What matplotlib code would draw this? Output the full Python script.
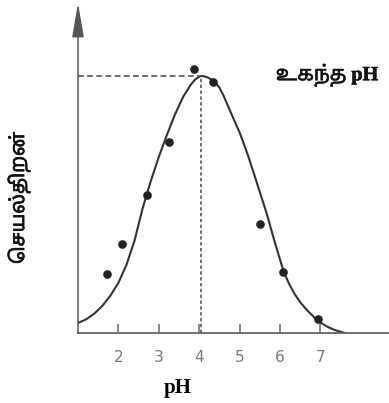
import matplotlib
matplotlib.use("Agg")
import matplotlib.pyplot as plt
import matplotlib.patheffects as pe

# activity vs pH curve (peak = 100)
ph_curve = [1.0, 1.2, 1.4, 1.6, 1.8, 2.0, 2.2, 2.4, 2.6, 2.8, 3.0, 3.2, 3.4, 3.6,
            3.8, 3.9, 4.0, 4.05, 4.12, 4.2, 4.3, 4.39, 4.5, 4.6, 4.72, 4.85, 5.01,
            5.22, 5.46, 5.67, 5.88, 6.08, 6.22, 6.37, 6.52, 6.70, 6.87, 7.03, 7.18,
            7.32, 7.47, 7.61]
act_curve = [3.9, 5.3, 7.5, 10.5, 14.5, 19.5, 26.5, 36.0, 48.5, 59.0, 68.5, 77.0,
             85.0, 91.8, 96.8, 98.6, 99.7, 100.0, 99.9, 99.5, 98.7, 97.6, 95.5, 92.5,
             88.1, 83.4, 77.7, 68.6, 56.9, 46.6, 34.9, 24.5, 19.3, 15.0, 11.6, 8.4,
             5.8, 3.8, 2.4, 1.4, 0.6, 0.0]

# measured points
ph_pts = [1.73, 2.08, 2.70, 3.25, 3.88, 4.34, 5.50, 6.07, 6.95]
act_pts = [22.8, 34.7, 53.7, 74.2, 102.8, 97.7, 42.4, 23.9, 5.3]

peak_ph = 4.05
peak_act = 100.0
xticks = [2, 3, 4, 5, 6, 7]

# matplotlib does no Tamil shaping, so the prefix vowel sign (U+0BC6)
# is put before its consonant to get the right look for "செயல்திறன்"
ylabel = "\u0BC6\u0B9A" + "யல்திறன்"
opt_label = "உகந்த pH"

fig = plt.figure(figsize=(3.89, 4.03), dpi=100)
ax = fig.add_axes([78 / 389, 70 / 403, 311 / 389, 330 / 403])
ax.set_xlim(1.0, 8.70)
ax.set_ylim(0, 128.4)

ax.plot(ph_curve, act_curve, color="#333333", lw=1.5, solid_capstyle="round",
        solid_joinstyle="round")
ax.plot(ph_pts, act_pts, "o", color="#222222", ms=5.2)

ax.hlines(peak_act, 1.0, peak_ph, colors="#555555", lw=1.2, linestyles=(0, (3.5, 2)))
ax.vlines(peak_ph, 0, peak_act, colors="#555555", lw=1.2, linestyles=(0, (2, 1.5)))

for s in ["top", "right", "left"]:
    ax.spines[s].set_visible(False)
ax.spines["bottom"].set_color("#666666")
ax.spines["bottom"].set_linewidth(1.3)

# y axis with arrow head
ax.annotate("", xy=(0, 1), xytext=(0, 0), xycoords="axes fraction",
            arrowprops=dict(arrowstyle="-|>,head_length=2.1,head_width=0.36",
                            color="#555555", lw=1.1, shrinkA=0, shrinkB=0))

ax.set_xticks(xticks)
ax.set_yticks([])
ax.tick_params(axis="x", direction="in", length=6.5, width=1.1, color="#666666",
               labelcolor="#777777", labelsize=11, pad=12)

ax.set_xlabel("pH", fontsize=15, fontweight="bold", family="Liberation Serif")
ax.xaxis.set_label_coords((178 - 78) / 311, -55 / 330)
ax.xaxis.label.set_va("center")

# the Tamil font is a variable font, so thicken it with a thin stroke
fig.text(19 / 389, 1 - 198 / 403, ylabel, rotation=90, ha="center", va="center",
         fontsize=14, family=["Noto Sans Tamil", "DejaVu Sans"], color="#111111",
         path_effects=[pe.withStroke(linewidth=0.5, foreground="#111111")])

fig.text(327 / 389, 1 - 75 / 403, opt_label, ha="center", va="center",
         fontsize=14.5, fontweight="bold",
         family=["Liberation Serif", "Noto Sans Tamil", "DejaVu Sans"], color="#111111",
         path_effects=[pe.withStroke(linewidth=0.4, foreground="#111111")])

fig.savefig("out.png", dpi=100)
